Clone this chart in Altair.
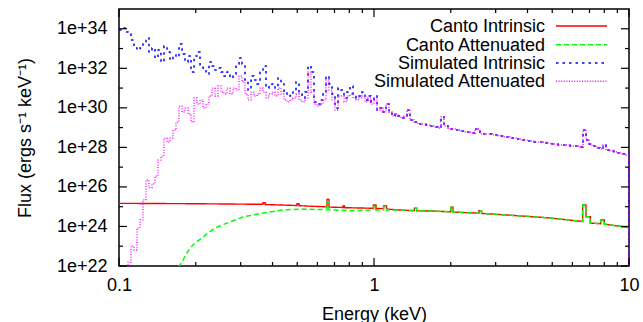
import altair as alt
import pandas as pd

# ---------------------------------------------------------------
# Spectra (energy in keV, flux given as log10 of ergs s^-1 keV^-1)
# ---------------------------------------------------------------

# Simulated spectra: common energy grid (bin start energies)
sim_energy = [
    0.1000, 0.1027, 0.1056, 0.1085, 0.1114, 0.1145, 0.1176, 0.1209, 0.1242, 0.1276,
    0.1311, 0.1347, 0.1384, 0.1422, 0.1461, 0.1501, 0.1543, 0.1585, 0.1628, 0.1673,
    0.1719, 0.1767, 0.1815, 0.1865, 0.1916, 0.1969, 0.2022, 0.2078, 0.2135, 0.2194,
    0.2254, 0.2316, 0.2380, 0.2445, 0.2512, 0.2581, 0.2652, 0.2724, 0.2799, 0.2876,
    0.2956, 0.3037, 0.3120, 0.3206, 0.3294, 0.3384, 0.3477, 0.3572, 0.3670, 0.3771,
    0.3875, 0.3981, 0.4091, 0.4203, 0.4318, 0.4437, 0.4558, 0.4684, 0.4812, 0.4944,
    0.5081, 0.5220, 0.5363, 0.5511, 0.5662, 0.5817, 0.5977, 0.6141, 0.6310, 0.6483,
    0.6662, 0.6845, 0.7033, 0.7226, 0.7424, 0.7628, 0.7838, 0.8053, 0.8274, 0.8501,
    0.8736, 0.8976, 0.9222, 0.9475, 0.9733, 1.000,
    1.028, 1.056, 1.085, 1.114, 1.145, 1.176, 1.209, 1.242, 1.276, 1.311,
    1.347, 1.384, 1.435, 1.488, 1.543, 1.599, 1.658, 1.719, 1.782, 1.831,
    1.881, 1.951, 2.022, 2.097, 2.174, 2.275, 2.380, 2.489, 2.604, 2.749,
    2.902, 3.064, 3.235, 3.415, 3.606, 3.805, 4.018, 4.242, 4.477, 4.727,
    4.989, 5.268, 5.561, 5.870, 6.197, 6.424, 6.601, 6.783, 6.968, 7.160,
    7.424, 7.697, 7.908, 8.125, 8.424, 8.735, 9.057, 9.388, 9.732, 10.0,
]

# Above ~1 keV both simulated spectra coincide
sim_hard_log = [
    29.89, 29.99, 29.79, 30.19, 29.79, 29.59, 29.69, 29.59, 29.49, 29.59,
    29.89, 29.39, 29.28, 29.18, 29.18, 29.13, 29.08, 29.03, 28.98, 29.54,
    29.08, 28.93, 28.93, 28.88, 28.83, 28.78, 28.73, 28.93, 28.68, 28.68,
    28.63, 28.58, 28.53, 28.47, 28.42, 28.37, 28.32, 28.27, 28.27, 28.22,
    28.17, 28.12, 28.12, 28.07, 28.07, 28.02, 28.88, 28.37, 28.17, 28.07,
    27.97, 27.92, 28.12, 27.87, 27.82, 27.77, 27.72, 27.67, 27.61, 20.0,
]

sim_intrinsic_soft_log = [
    33.94, 34.04, 33.84, 33.74, 33.43, 33.03, 32.93, 33.03, 33.23, 33.53,
    32.82, 33.03, 32.52, 32.93, 32.32, 33.13, 32.82, 32.42, 32.67, 32.57,
    33.23, 32.72, 32.32, 32.62, 31.81, 32.62, 32.82, 32.12, 32.02, 31.71,
    32.32, 32.12, 31.91, 32.02, 31.81, 31.61, 31.81, 31.51, 31.71, 32.22,
    32.52, 32.22, 31.41, 30.90, 31.61, 31.41, 31.21, 31.91, 32.12, 31.00,
    31.11, 31.21, 31.00, 31.51, 31.21, 30.70, 30.75, 30.60, 30.80, 31.31,
    30.70, 30.50, 30.80, 32.12, 31.81, 30.30, 30.19, 30.40, 30.70, 31.61,
    31.21, 30.70, 29.99, 31.00, 30.90, 30.50, 30.80, 31.11, 30.70, 30.50,
    30.60, 30.80, 30.40, 30.60, 30.30, 30.60,
]

sim_attenuated_soft_log = [
    20.00, 20.00, 21.80, 22.20, 23.01, 22.81, 23.92, 24.33, 25.34, 26.35,
    25.95, 26.15, 26.55, 27.36, 27.56, 28.47, 28.27, 28.47, 28.88, 29.28,
    30.09, 29.79, 29.99, 29.69, 29.28, 30.50, 30.19, 30.40, 29.99, 30.19,
    30.60, 31.00, 30.60, 31.11, 30.80, 30.70, 31.00, 30.70, 31.00, 30.90,
    31.61, 31.31, 30.70, 30.40, 30.80, 30.60, 30.70, 31.00, 30.80, 30.50,
    30.70, 30.80, 30.60, 31.00, 30.70, 30.40, 30.30, 30.40, 30.50, 30.70,
    30.40, 30.30, 30.50, 31.81, 30.80, 30.19, 30.09, 30.19, 30.40, 31.41,
    30.90, 30.40, 29.89, 30.60, 30.60, 30.30, 30.60, 30.70, 30.50, 30.40,
    30.50, 30.60, 30.30, 30.50, 30.19, 30.50,
]

# Canto model: soft parts differ, hard part (>1.2 keV) is shared
canto_int_soft_energy = [
    0.100, 0.200, 0.300, 0.367, 0.367, 0.374, 0.374, 0.499, 0.499, 0.508,
    0.508, 0.654, 0.654, 0.666, 0.666, 0.756, 0.756, 0.766, 0.766, 0.995,
    0.995, 1.018, 1.018, 1.09, 1.09, 1.12, 1.12,
]
canto_int_soft_log = [
    25.17, 25.15, 25.13, 25.12, 25.20, 25.20, 25.11, 25.06, 25.15, 25.15,
    25.05, 24.99, 25.37, 25.37, 24.98, 24.96, 25.04, 25.04, 24.95, 24.92,
    25.09, 25.09, 24.91, 24.90, 25.04, 25.04, 24.88,
]

canto_att_soft_energy = [
    0.1703, 0.1734, 0.1782, 0.1848, 0.1899, 0.1986, 0.2116, 0.2234, 0.2379, 0.2534,
    0.2724, 0.3064, 0.3670, 0.4396, 0.5126, 0.654, 0.654, 0.666, 0.666, 0.805,
    0.995, 0.995, 1.018, 1.018, 1.09, 1.09, 1.12, 1.12,
]
canto_att_soft_log = [
    21.95, 22.05, 22.30, 22.66, 22.91, 23.16, 23.42, 23.67, 23.92, 24.07,
    24.23, 24.48, 24.68, 24.83, 24.88, 24.85, 25.25, 25.25, 24.84, 24.80,
    24.83, 25.00, 25.00, 24.83, 24.83, 24.98, 24.98, 24.83,
]

canto_hard_energy = [
    1.265, 1.44, 1.44, 1.47, 1.47, 1.70, 2.00, 2.00, 2.04, 2.04,
    2.58, 2.58, 2.64, 2.64, 3.32, 4.20, 4.89, 6.58, 6.58, 6.78,
    6.78, 7.05, 7.05, 7.75, 7.75, 8.00, 8.00, 10.0,
]
canto_hard_log = [
    24.83, 24.80, 24.92, 24.92, 24.79, 24.78, 24.74, 24.97, 24.97, 24.73,
    24.67, 24.80, 24.80, 24.66, 24.58, 24.49, 24.43, 24.25, 25.09, 25.09,
    24.49, 24.49, 24.17, 24.14, 24.33, 24.33, 24.12, 23.94,
]

series_names = ["Canto Intrinsic", "Canto Attenuated",
                "Simulated Intrinsic", "Simulated Attenuated"]
series_colors = ["#ff0000", "#00ff00", "#0000ff", "#ff00ff"]
series_dash = [[1, 0], [5, 3], [2.5, 4], [1, 1.6]]

x_tick_major = [0.1, 1, 10]
x_tick_minor = [0.2, 0.3, 0.4, 0.5, 0.6, 0.7, 0.8, 0.9, 2, 3, 4, 5, 6, 7, 8, 9]
y_tick_major = [1e22, 1e24, 1e26, 1e28, 1e30, 1e32, 1e34]
y_tick_minor = [1e23, 1e25, 1e27, 1e29, 1e31, 1e33]

# ---------------------------------------------------------------
W, H = 510, 257
FONT = "Liberation Sans"
FS = 18


def frame(energy, logflux):
    return pd.DataFrame({
        "energy": energy,
        "flux": [10.0 ** v for v in logflux],
        "i": list(range(len(energy))),
    })


x_enc = alt.X(
    "energy:Q",
    scale=alt.Scale(type="log", domain=[0.1, 10], nice=False),
    axis=alt.Axis(
        values=x_tick_major, format="~g", title="Energy (keV)",
        labelFlush=False, labelOverlap=False, ticks=False, tickSize=0,
        domain=False, grid=False, labelPadding=10,
        labelFont=FONT, labelFontSize=FS, labelColor="black",
        titleFont=FONT, titleFontSize=FS, titleFontWeight="normal",
        titleColor="black", titleX=W / 2, titleY=53,
        titleAlign="center", titleBaseline="alphabetic",
    ),
)
y_enc = alt.Y(
    "flux:Q",
    scale=alt.Scale(type="log", domain=[1e22, 1e35], nice=False),
    axis=alt.Axis(
        values=y_tick_major, format=".0e", title="Flux (ergs s⁻¹ keV⁻¹)",
        labelFlush=False, labelOverlap=False, ticks=False, tickSize=0,
        domain=False, grid=False, labelPadding=12,
        labelFont=FONT, labelFontSize=FS, labelColor="black",
        titleFont=FONT, titleFontSize=FS, titleFontWeight="normal",
        titleColor="black", titleX=-94, titleY=H / 2, titleAngle=270,
        titleAlign="center", titleBaseline="middle",
    ),
)


def spectrum(df, idx, interp, width):
    return alt.Chart(df).mark_line(
        color=series_colors[idx], strokeDash=series_dash[idx],
        strokeWidth=width, interpolate=interp, clip=True,
    ).encode(x=x_enc, y=y_enc, order="i:Q")


canto_int = frame(canto_int_soft_energy + canto_hard_energy,
                  canto_int_soft_log + canto_hard_log)
canto_att = frame(canto_att_soft_energy + canto_hard_energy,
                  canto_att_soft_log + canto_hard_log)
sim_int = frame(sim_energy, sim_intrinsic_soft_log + sim_hard_log)
sim_att = frame(sim_energy, sim_attenuated_soft_log + sim_hard_log)

layers = [
    spectrum(canto_int, 0, "linear", 1.4),
    spectrum(canto_att, 1, "linear", 1.5),
    spectrum(sim_int, 2, "step-after", 1.5),
    spectrum(sim_att, 3, "step-after", 1.3),
]


# Inward-pointing ticks on all four sides (mirrored)
def x_ticks(values, length):
    df = pd.DataFrame({"energy": values})
    base = alt.Chart(df).mark_rule(color="black", strokeWidth=1.2)
    return [
        base.encode(x=x_enc, y=alt.value(H), y2=alt.value(H - length)),
        base.encode(x=x_enc, y=alt.value(0), y2=alt.value(length)),
    ]


def y_ticks(values, length):
    df = pd.DataFrame({"flux": values})
    base = alt.Chart(df).mark_rule(color="black", strokeWidth=1.2)
    return [
        base.encode(y=y_enc, x=alt.value(0), x2=alt.value(length)),
        base.encode(y=y_enc, x=alt.value(W), x2=alt.value(W - length)),
    ]


layers += x_ticks(x_tick_major, 8) + x_ticks(x_tick_minor, 4)
layers += y_ticks(y_tick_major, 8) + y_ticks(y_tick_minor, 4)

# Key in the upper-right corner: label on the left, line sample on the right
key_rows = [17.7, 36.5, 54.8, 73.0]
for idx, name in enumerate(series_names):
    row = key_rows[idx]
    layers.append(
        alt.Chart(pd.DataFrame({"label": [name]})).mark_text(
            align="right", baseline="middle", font=FONT, fontSize=FS,
            color="black",
        ).encode(x=alt.value(426), y=alt.value(row), text="label:N")
    )
    layers.append(
        alt.Chart(pd.DataFrame({"label": [name]})).mark_rule(
            color=series_colors[idx], strokeDash=series_dash[idx],
            strokeWidth=1.5,
        ).encode(x=alt.value(437), x2=alt.value(488), y=alt.value(row - 0.7))
    )

chart = alt.layer(*layers).properties(
    width=W, height=H,
    padding={"left": 119, "top": 9, "right": 14, "bottom": 56},
    autosize=alt.AutoSizeParams(type="none"),
    background="white",
).configure_view(stroke="black", strokeWidth=1.5)

chart.save("out.html", embed_options={"renderer": "svg", "actions": False})
